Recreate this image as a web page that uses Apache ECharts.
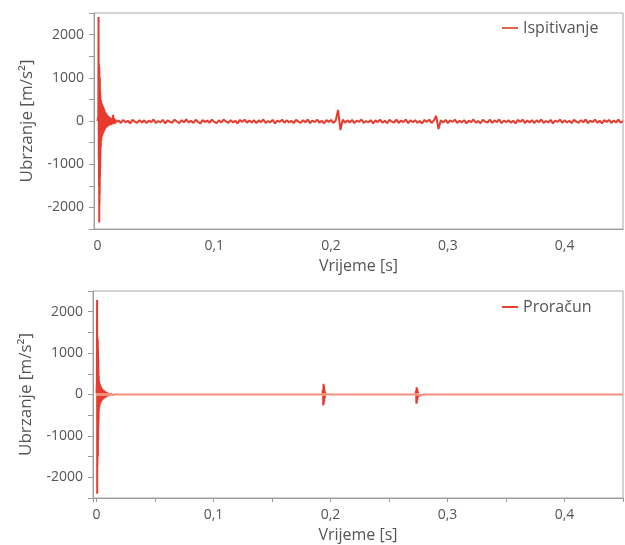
<!DOCTYPE html>
<html>
<head>
<meta charset="utf-8">
<script src="https://cdn.jsdelivr.net/npm/echarts@6/dist/echarts.min.js"></script>
<style>html,body{margin:0;padding:0;background:#fff}#c{width:625px;height:545px}</style>
</head>
<body>
<div id="c"></div>
<script>
// ---- Ispitivanje (measured) : impact region ----
const timeTopImpact = [0, 0.0007, 0.0009, 0.0011, 0.0012, 0.0013, 0.0014, 0.0015, 0.0016, 0.0017, 0.0018, 0.0019, 0.0020, 0.0021, 0.0022, 0.0023, 0.0024, 0.0025, 0.0026, 0.0028, 0.0030, 0.0032, 0.0034, 0.0036, 0.0038, 0.0040, 0.0043, 0.0046, 0.0049, 0.0052, 0.0055, 0.0058, 0.0061, 0.0064, 0.0067, 0.0070, 0.0074, 0.0078, 0.0082, 0.0086, 0.0090, 0.0095, 0.0100, 0.0105, 0.0110, 0.0115, 0.0120, 0.0125, 0.0130, 0.0134, 0.0138, 0.0142, 0.0147, 0.0152];
const accTopImpact = [0, 120, 2410, -900, 1330, -1500, 1100, -2350, 1250, -1940, 900, -1700, 1000, -1300, 700, -1100, 650, -800, 500, -600, 480, -450, 420, -380, 400, -350, 370, -300, 330, -260, 290, -230, 250, -200, 210, -170, 180, -150, 150, -130, 120, -110, 100, -100, 80, -90, 60, -80, 40, 140, -60, 60, -70, 30];
// ---- Ispitivanje : remaining record, sampled every 0.002 s from 0.016 s ----
const timeTopRecordStart = 0.016;
const timeTopRecordStep = 0.002;
const accTopRecord = [
  -20, 10, -45, 25, -30, 5, -55, 30, -15, -40, 20, -35, 15, -50, 10, -25, 35, -45, 0, -30,
  25, -55, 15, -20, -40, 30, -10, -50, 20, -30, 40, -35, 5, -45, 25, -15, -60, 20, -25, 10,
  -40, 30, -20, -50, 15, -35, 35, -10, -45, 20, -30, 5, -55, 25, -20, 30, -40, 10, -35, 20,
  -50, 15, -25, 35, -45, 0, -30, 25, -55, 10, -20, 30, -40, 15, -35, 5, -50, 25, -15, -45,
  20, -30, 35, -50, 10, -25, 30, -40, 5, -55, 20, -20, 25, -45, 10, 255, -210, 30, -40, 15,
  -35, 25, -50, 10, -20, 35, -45, 0, -30, 20, -55, 15, -25, 30, -40, 5, -50, 25, -15, -35,
  30, -45, 10, -25, 35, -50, 15, -30, 20, -40, 0, -55, 25, -20, 30, -45, 10, 120, -185, 20,
  -35, 25, -50, 15, -20, 30, -45, 5, -30, 20, -55, 10, -25, 35, -40, 0, -50, 25, -15, -35,
  30, -45, 15, -25, 35, -50, 10, -30, 20, -40, 5, -55, 25, -20, 30, -45, 10, -35, 20, -50,
  15, -25, 35, -45, 0, -30, 25, -55, 10, -20, 30, -40, 15, -35, 5, -50, 25, -15, -45, 20,
  -30, 35, -50, 10, -25, 30, -40, 5, -55, 20, -20, 25, -45, 10, -35, 30, -40, 0
];

// ---- Proračun (computed) ----
const timeBotImpact = [0, 0.0003, 0.0005, 0.0006, 0.0007, 0.0008, 0.0009, 0.0010, 0.0011, 0.0012, 0.0013, 0.0014, 0.0015, 0.0016, 0.0017, 0.0018, 0.0019, 0.0020, 0.0022, 0.0024, 0.0026, 0.0028, 0.0030, 0.0032, 0.0034, 0.0036, 0.0038, 0.0040, 0.0043, 0.0046, 0.0049, 0.0052, 0.0055, 0.0058, 0.0061, 0.0064, 0.0067, 0.0070, 0.0074, 0.0078, 0.0082, 0.0086, 0.0090, 0.0095, 0.0100, 0.0105, 0.0110, 0.0116, 0.0122, 0.0128, 0.0134, 0.0140, 0.0148, 0.0156, 0.0165, 0.0175, 0.0190, 0.0200, 0.0300];
const accBotImpact = [0, 300, 2280, -2400, 1390, -1720, 1350, -1200, 1300, -1500, 1100, -1100, 900, -800, 600, -600, 450, -400, 330, -300, 280, -250, 240, -220, 210, -190, 185, -165, 160, -145, 140, -125, 120, -110, 105, -95, 90, -80, 75, -68, 62, -56, 50, -45, 40, -36, 32, -28, 24, -21, 18, -15, 12, -9, 6, -4, 2, 0, 0];
const timeBotBurst1 = [0.1900, 0.1930, 0.1936, 0.1938, 0.1940, 0.1942, 0.1944, 0.1946, 0.1948, 0.1950, 0.1953, 0.1956, 0.1960, 0.1966, 0.2000];
const accBotBurst1 = [0, 0, 120, -265, 260, -230, 210, -170, 140, -100, 70, -40, 15, 0, 0];
const timeBotBurst2 = [0.2700, 0.2726, 0.2732, 0.2734, 0.2736, 0.2738, 0.2740, 0.2742, 0.2744, 0.2746, 0.2749, 0.2752, 0.2756, 0.2762, 0.2800];
const accBotBurst2 = [0, 0, 90, -225, 175, -190, 150, -130, 100, -75, 50, -30, 10, 0, 0];
const timeBotEnd = [0.45];
const accBotEnd = [0];

const xTicks = ['0', '0,1', '0,2', '0,3', '0,4'];
const yName = 'Ubrzanje [m/s²]';
const xName = 'Vrijeme [s]';

function pairs(t, a) { return t.map((v, i) => [v, a[i]]); }
const topData = pairs(timeTopImpact, accTopImpact).concat(
  accTopRecord.map((v, i) => [+(timeTopRecordStart + i * timeTopRecordStep).toFixed(4), v]));
const botData = pairs(timeBotImpact, accBotImpact)
  .concat(pairs(timeBotBurst1, accBotBurst1))
  .concat(pairs(timeBotBurst2, accBotBurst2))
  .concat(pairs(timeBotEnd, accBotEnd));

const FONT = 'Open Sans';
const TXT = '#555';
const AX = '#9a9a9a';
const RED = '#e63b2e';
const SALMON = '#f28f7b';

function xLabel(v) {
  const i = Math.round(v * 10);
  if (Math.abs(v * 10 - i) > 1e-6 || i < 0 || i >= xTicks.length) return '';
  return xTicks[i];
}

function xAxisCfg(gridIndex, showTicks) {
  return {
    type: 'value', gridIndex, min: -0.003, max: 0.45,
    name: xName, nameLocation: 'middle', nameGap: 29,
    nameTextStyle: { color: TXT, fontSize: 16, fontFamily: FONT },
    axisLine: { show: true, onZero: false, lineStyle: { color: AX } },
    axisTick: { show: showTicks, length: 4, lineStyle: { color: AX } },
    minorTick: { show: showTicks, splitNumber: 2, length: 4, lineStyle: { color: AX } },
    splitLine: { show: false },
    axisLabel: { color: TXT, fontSize: 14, fontFamily: FONT, margin: 10,
      showMinLabel: false, showMaxLabel: false, formatter: xLabel }
  };
}
function yAxisCfg(gridIndex) {
  return {
    type: 'value', gridIndex, min: -2500, max: 2500,
    name: yName, nameLocation: 'middle', nameGap: 58,
    nameTextStyle: { color: TXT, fontSize: 17, fontFamily: FONT },
    axisLine: { show: true, onZero: false, lineStyle: { color: AX } },
    axisTick: { show: true, length: 5, lineStyle: { color: AX } },
    minorTick: { show: true, splitNumber: 2, length: 5, lineStyle: { color: AX } },
    splitLine: { show: false },
    axisLabel: { color: TXT, fontSize: 14, fontFamily: FONT, margin: 10,
      showMinLabel: false, showMaxLabel: false,
      formatter: v => (Math.abs(v) % 1000 === 0 ? String(v) : '') }
  };
}

const chart = echarts.init(document.getElementById('c'), null, { renderer: 'canvas' });
chart.setOption({
  animation: false,
  backgroundColor: '#fff',
  grid: [
    { left: 94, top: 13, right: 2, height: 216, show: true, borderColor: '#a8a8a8', borderWidth: 1, containLabel: false },
    { left: 93, top: 291, right: 2, height: 207, show: true, borderColor: '#a8a8a8', borderWidth: 1, containLabel: false }
  ],
  legend: [
    { data: [{ name: 'Ispitivanje', itemStyle: { color: '#e5664c' }, lineStyle: { color: '#e5664c' } }],
      left: 497, top: 15, icon: 'rect', itemWidth: 16, itemHeight: 2, itemGap: 5,
      textStyle: { color: TXT, fontSize: 16, fontFamily: FONT } },
    { data: [{ name: 'Proračun', itemStyle: { color: '#e5432f' }, lineStyle: { color: '#e5432f' } }],
      left: 497, top: 294, icon: 'rect', itemWidth: 16, itemHeight: 2, itemGap: 5,
      textStyle: { color: TXT, fontSize: 16, fontFamily: FONT } }
  ],
  visualMap: {
    show: false, type: 'piecewise', seriesIndex: 1, dimension: 1,
    pieces: [
      { lte: -30, color: RED },
      { gt: -30, lte: 30, color: SALMON },
      { gt: 30, color: RED }
    ]
  },
  xAxis: [xAxisCfg(0, false), xAxisCfg(1, true)],
  yAxis: [yAxisCfg(0), yAxisCfg(1)],
  series: [
    { name: 'Ispitivanje', type: 'line', xAxisIndex: 0, yAxisIndex: 0, data: topData,
      showSymbol: false, symbol: 'none', color: RED, lineStyle: { width: 2, color: RED } },
    { name: 'Proračun', type: 'line', xAxisIndex: 1, yAxisIndex: 1, data: botData,
      showSymbol: false, symbol: 'none', color: '#e5432f', lineStyle: { width: 2 } }
  ]
});
</script>
</body>
</html>
